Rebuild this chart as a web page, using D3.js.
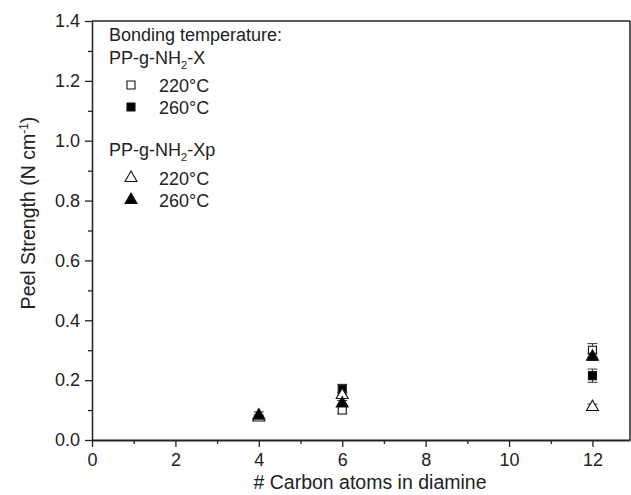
<!DOCTYPE html>
<html>
<head>
<meta charset="utf-8">
<script src="https://cdn.jsdelivr.net/npm/d3@7"></script>
<style>
body { margin: 0; background: #fff; }
text { font-family: "Liberation Sans", Arial, sans-serif; fill: #222; }
</style>
</head>
<body>
<div id="chart"></div>
<script>
var w = 631;
var h = 495;

// series: x = carbon atoms, y = peel strength, e = error
var xOpenSquare = [6, 12];
var yOpenSquare = [0.10, 0.30];
var eOpenSquare = [0.012, 0.022];
var xFilledSquare = [6, 12];
var yFilledSquare = [0.17, 0.215];
var eFilledSquare = [0.016, 0.022];
var xOpenTri = [4, 6, 12];
var yOpenTri = [0.075, 0.15, 0.11];
var eOpenTri = [0.008, 0.01, 0.01];
var xFilledTri = [4, 6, 12];
var yFilledTri = [0.082, 0.122, 0.278];
var eFilledTri = [0.012, 0.01, 0.012];

var xTicks = [0, 2, 4, 6, 8, 10, 12];
var yTicks = [0.0, 0.2, 0.4, 0.6, 0.8, 1.0, 1.2, 1.4];

var series = [
  {name: "220°C", shape: "square", fill: "#fff", xs: xOpenSquare, ys: yOpenSquare, es: eOpenSquare},
  {name: "260°C", shape: "square", fill: "#000", xs: xFilledSquare, ys: yFilledSquare, es: eFilledSquare},
  {name: "220°C", shape: "triangle", fill: "#fff", xs: xOpenTri, ys: yOpenTri, es: eOpenTri},
  {name: "260°C", shape: "triangle", fill: "#000", xs: xFilledTri, ys: yFilledTri, es: eFilledTri}
];

var xScale = d3.scaleLinear().domain([0, 12.9]).range([92, 630]);
var yScale = d3.scaleLinear().domain([0, 1.4]).range([440, 21]);

var svg = d3.select("#chart").append("svg")
    .attr("width", w).attr("height", h);

// frame
svg.append("line").attr("x1", xScale(0)).attr("x2", 630)
   .attr("y1", yScale(1.4)).attr("y2", yScale(1.4))
   .attr("stroke", "#222").attr("stroke-width", 1.5);
svg.append("line").attr("x1", 630).attr("x2", 630)
   .attr("y1", yScale(1.4)).attr("y2", yScale(0))
   .attr("stroke", "#222").attr("stroke-width", 1.5);

// minor ticks
var xMinor = d3.range(1, 13, 2);
svg.append("g").attr("transform", "translate(0," + yScale(0) + ")")
   .call(d3.axisBottom(xScale).tickValues(xMinor).tickSize(4).tickFormat(""))
   .call(function(g) { g.select(".domain").remove(); })
   .selectAll("line").attr("stroke", "#222").attr("stroke-width", 1.3);
var yMinor = d3.range(0.1, 1.4, 0.2);
svg.append("g").attr("transform", "translate(" + xScale(0) + ",0)")
   .call(d3.axisLeft(yScale).tickValues(yMinor).tickSize(4).tickFormat(""))
   .call(function(g) { g.select(".domain").remove(); })
   .selectAll("line").attr("stroke", "#222").attr("stroke-width", 1.3);

//X axis
var xAxis = svg.append("g")
   .attr("class", "x axis")
   .attr("transform", "translate(0," + yScale(0) + ")")
   .call(d3.axisBottom(xScale).tickValues(xTicks).tickSize(7).tickSizeOuter(0).tickPadding(6).tickFormat(d3.format("d")));
xAxis.select(".domain").attr("stroke", "#222").attr("stroke-width", 1.8);
xAxis.selectAll(".tick line").attr("stroke", "#222").attr("stroke-width", 1.3);
xAxis.selectAll("text").style("font-size", "18px").attr("fill", "#222");

//Y axis
var yAxis = svg.append("g")
   .attr("class", "y axis")
   .attr("transform", "translate(" + xScale(0) + ",0)")
   .call(d3.axisLeft(yScale).tickValues(yTicks).tickSize(7).tickSizeOuter(0).tickPadding(5).tickFormat(d3.format(".1f")));
yAxis.select(".domain").attr("stroke", "#222").attr("stroke-width", 1.5);
yAxis.selectAll(".tick line").attr("stroke", "#222").attr("stroke-width", 1.3);
yAxis.selectAll("text").style("font-size", "18px").attr("fill", "#222");

// axis titles
svg.append("text")
   .attr("x", 370).attr("y", 489)
   .attr("text-anchor", "middle")
   .style("font-size", "19.5px")
   .text("# Carbon atoms in diamine");

var yTitle = svg.append("text")
   .attr("transform", "translate(35," + 213 + ") rotate(-90)")
   .attr("text-anchor", "middle")
   .style("font-size", "19.5px");
yTitle.append("tspan").text("Peel Strength (N cm");
yTitle.append("tspan").attr("dy", -7).style("font-size", "12px").text("-1");
yTitle.append("tspan").attr("dy", 7).text(")");

var sq = d3.symbol().type(d3.symbolSquare).size(64);
var tri = d3.symbol().type(d3.symbolTriangle).size(62);

function marker(sel, s) {
  sel.append("path")
     .attr("d", s.shape == "square" ? sq : tri)
     .attr("fill", s.fill)
     .attr("stroke", "#111")
     .attr("stroke-width", 1.1);
}

// error bars + points
series.forEach(function(s) {
  var pts = s.xs.map(function(x, i) { return {x: x, y: s.ys[i], e: s.es[i]}; });
  var g = svg.append("g");
  var eb = g.selectAll("g.eb").data(pts).enter().append("g")
     .attr("stroke", "#333").attr("stroke-width", 1);
  eb.append("line")
     .attr("x1", function(d) { return xScale(d.x); })
     .attr("x2", function(d) { return xScale(d.x); })
     .attr("y1", function(d) { return yScale(d.y - d.e); })
     .attr("y2", function(d) { return yScale(d.y + d.e); });
  eb.append("line")
     .attr("x1", function(d) { return xScale(d.x) - 5; })
     .attr("x2", function(d) { return xScale(d.x) + 5; })
     .attr("y1", function(d) { return yScale(d.y + d.e); })
     .attr("y2", function(d) { return yScale(d.y + d.e); });
  eb.append("line")
     .attr("x1", function(d) { return xScale(d.x) - 5; })
     .attr("x2", function(d) { return xScale(d.x) + 5; })
     .attr("y1", function(d) { return yScale(d.y - d.e); })
     .attr("y2", function(d) { return yScale(d.y - d.e); });
  g.selectAll("g.pt").data(pts).enter().append("g")
     .attr("transform", function(d) { return "translate(" + xScale(d.x) + "," + yScale(d.y) + ")"; })
     .each(function() { marker(d3.select(this), s); });
});

// legend
var lg = svg.append("g").style("font-size", "18px");
lg.append("text").attr("x", 109).attr("y", 41).text("Bonding temperature:");
function groupTitle(y, suffix) {
  var t = lg.append("text").attr("x", 109).attr("y", y);
  t.append("tspan").text("PP-g-NH");
  t.append("tspan").attr("dy", 5).style("font-size", "11px").text("2");
  t.append("tspan").attr("dy", -5).text("-" + suffix);
}
groupTitle(64, "X");
groupTitle(156, "Xp");
var legendRows = [92, 114, 185, 207];
series.forEach(function(s, i) {
  var row = lg.append("g").attr("transform", "translate(131," + (legendRows[i] - 7) + ")");
  marker(row, s);
  lg.append("text").attr("x", 159).attr("y", legendRows[i]).text(s.name);
});
</script>
</body>
</html>
